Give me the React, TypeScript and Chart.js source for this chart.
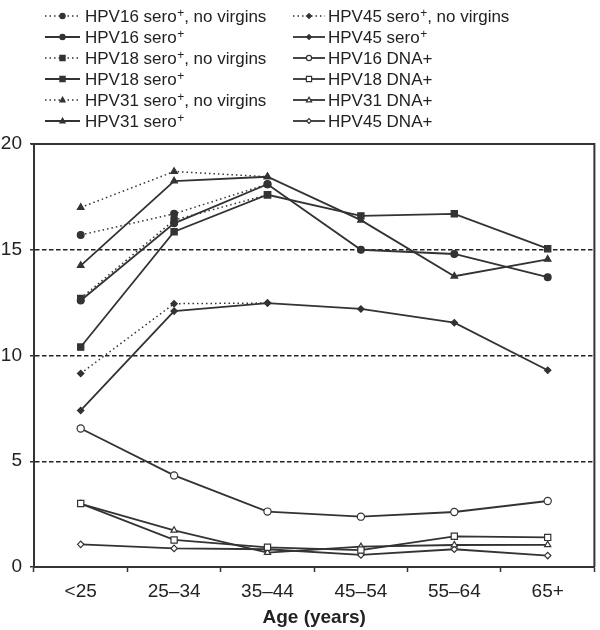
import React, { useEffect, useRef } from 'react';
import { Chart, registerables } from 'chart.js';

Chart.register(...registerables);

const categories = ['<25', '25–34', '35–44', '45–54', '55–64', '65+'];
const yTicks = [0, 5, 10, 15, 20];
const dashedLevels = [5, 10, 15];

const hpv16NoVirgins = [15.7, 16.7, 18.1, null, null, null];
const hpv16Sero = [12.6, 16.25, 18.1, 15.0, 14.8, 13.7];
const hpv18NoVirgins = [12.7, 16.4, 17.6, null, null, null];
const hpv18Sero = [10.4, 15.85, 17.6, 16.6, 16.7, 15.05];
const hpv31NoVirgins = [17.0, 18.7, 18.45, null, null, null];
const hpv31Sero = [14.25, 18.25, 18.45, 16.4, 13.75, 14.55];
const hpv45NoVirgins = [9.15, 12.45, 12.48, null, null, null];
const hpv45Sero = [7.4, 12.1, 12.48, 12.2, 11.55, 9.3];
const hpv16Dna = [6.55, 4.33, 2.62, 2.38, 2.6, 3.12];
const hpv18Dna = [3.0, 1.28, 0.93, 0.8, 1.45, 1.4];
const hpv31Dna = [2.98, 1.73, 0.68, 0.96, 1.04, 1.05];
const hpv45Dna = [1.07, 0.88, 0.84, 0.57, 0.84, 0.54];

const DARK = '#333333';
const TEXT = '#222222';
const FONT = "'Liberation Sans', Arial, Helvetica, sans-serif";

type Spec = {
  label: string;
  data: (number | null)[];
  style: 'circle' | 'rect' | 'triangle' | 'rectRot';
  dotted: boolean;
  open: boolean;
  radius: number;
};

const specs: Spec[] = [
  { label: 'HPV16 sero⁺, no virgins', data: hpv16NoVirgins, style: 'circle', dotted: true, open: false, radius: 3.4 },
  { label: 'HPV16 sero⁺', data: hpv16Sero, style: 'circle', dotted: false, open: false, radius: 3.4 },
  { label: 'HPV18 sero⁺, no virgins', data: hpv18NoVirgins, style: 'rect', dotted: true, open: false, radius: 4.4 },
  { label: 'HPV18 sero⁺', data: hpv18Sero, style: 'rect', dotted: false, open: false, radius: 4.4 },
  { label: 'HPV31 sero⁺, no virgins', data: hpv31NoVirgins, style: 'triangle', dotted: true, open: false, radius: 3.8 },
  { label: 'HPV31 sero⁺', data: hpv31Sero, style: 'triangle', dotted: false, open: false, radius: 3.8 },
  { label: 'HPV45 sero⁺, no virgins', data: hpv45NoVirgins, style: 'rectRot', dotted: true, open: false, radius: 3.2 },
  { label: 'HPV45 sero⁺', data: hpv45Sero, style: 'rectRot', dotted: false, open: false, radius: 3.2 },
  { label: 'HPV16 DNA+', data: hpv16Dna, style: 'circle', dotted: false, open: true, radius: 3.6 },
  { label: 'HPV18 DNA+', data: hpv18Dna, style: 'rect', dotted: false, open: true, radius: 4.4 },
  { label: 'HPV31 DNA+', data: hpv31Dna, style: 'triangle', dotted: false, open: true, radius: 3.6 },
  { label: 'HPV45 DNA+', data: hpv45Dna, style: 'rectRot', dotted: false, open: true, radius: 3.2 },
];

function drawMarker(ctx: CanvasRenderingContext2D, style: string, x: number, y: number, r: number, open: boolean) {
  ctx.save();
  ctx.beginPath();
  if (style === 'circle') {
    ctx.arc(x, y, r, 0, Math.PI * 2);
  } else if (style === 'rect') {
    ctx.rect(x - r, y - r, 2 * r, 2 * r);
  } else if (style === 'triangle') {
    ctx.moveTo(x, y - r * 1.1);
    ctx.lineTo(x + r, y + r * 0.75);
    ctx.lineTo(x - r, y + r * 0.75);
    ctx.closePath();
  } else {
    ctx.moveTo(x, y - r);
    ctx.lineTo(x + r, y);
    ctx.lineTo(x, y + r);
    ctx.lineTo(x - r, y);
    ctx.closePath();
  }
  ctx.fillStyle = open ? '#ffffff' : DARK;
  ctx.strokeStyle = DARK;
  ctx.lineWidth = 1.2;
  ctx.fill();
  ctx.stroke();
  ctx.restore();
}

function drawLabel(ctx: CanvasRenderingContext2D, text: string, x: number, y: number) {
  const parts = text.split('⁺');
  ctx.save();
  ctx.fillStyle = TEXT;
  ctx.textBaseline = 'alphabetic';
  ctx.textAlign = 'left';
  let cx = x;
  const base = y + 6;
  parts.forEach((p, i) => {
    ctx.font = `17px ${FONT}`;
    ctx.fillText(p, cx, base);
    cx += ctx.measureText(p).width;
    if (i < parts.length - 1) {
      ctx.font = `12px ${FONT}`;
      ctx.fillText('+', cx + 0.5, base - 5);
      cx += ctx.measureText('+').width + 0.5;
    }
  });
  ctx.restore();
}

const legendPlugin = {
  id: 'customLegend',
  afterDraw(chart: any) {
    const ctx: CanvasRenderingContext2D = chart.ctx;
    const cols = [
      { lineX: 45, lineW: 35, textX: 85 },
      { lineX: 293, lineW: 32, textX: 328 },
    ];
    const rowY0 = 16;
    const rowH = 21;
    specs.forEach((s, i) => {
      const col = cols[Math.floor(i / 6)];
      const y = rowY0 + (i % 6) * rowH;
      ctx.save();
      ctx.strokeStyle = DARK;
      ctx.lineWidth = s.dotted ? 1.4 : 1.8;
      ctx.setLineDash(s.dotted ? [1.5, 3] : []);
      ctx.beginPath();
      ctx.moveTo(col.lineX, y);
      ctx.lineTo(col.lineX + col.lineW, y);
      ctx.stroke();
      ctx.restore();
      const mr = s.style === 'rect' ? 2.6 : s.style === 'rectRot' ? 2.4 : 2.6;
      drawMarker(ctx, s.style, col.lineX + col.lineW / 2, y, mr, s.open);
      drawLabel(ctx, s.label, col.textX, y);
    });
  },
};

const framePlugin = {
  id: 'frame',
  afterDatasetsDraw(chart: any) {
    const { ctx, chartArea } = chart;
    ctx.save();
    ctx.strokeStyle = DARK;
    ctx.lineWidth = 2;
    ctx.beginPath();
    ctx.moveTo(chartArea.left - 3, chartArea.top);
    ctx.lineTo(chartArea.right, chartArea.top);
    ctx.lineTo(chartArea.right, chartArea.bottom);
    ctx.stroke();
    ctx.restore();
  },
};

export default function App() {
  const ref = useRef<HTMLCanvasElement | null>(null);

  useEffect(() => {
    if (!ref.current) return;
    const datasets = specs.map((s) => ({
      label: s.label,
      data: s.data,
      borderColor: DARK,
      backgroundColor: s.open ? '#ffffff' : DARK,
      borderWidth: s.dotted ? 1.5 : 1.8,
      borderDash: s.dotted ? [1.5, 3] : [],
      pointStyle: s.style,
      pointRadius: s.radius,
      pointBorderWidth: 1.2,
      pointBorderColor: DARK,
      pointBackgroundColor: s.open ? '#ffffff' : DARK,
      tension: 0,
      spanGaps: false,
      fill: false,
    }));

    const chart = new Chart(ref.current, {
      type: 'line',
      data: { labels: categories, datasets },
      plugins: [legendPlugin, framePlugin],
      options: {
        responsive: false,
        animation: false,
        layout: { padding: { top: 144, right: 1, left: 0, bottom: 0 } },
        plugins: {
          legend: { display: false },
          tooltip: { enabled: false },
        },
        scales: {
          x: {
            type: 'category',
            offset: true,
            grid: {
              display: true,
              offset: true,
              drawOnChartArea: false,
              tickLength: 5,
              tickColor: DARK,
              tickWidth: 1.5,
              color: DARK,
            },
            border: { display: true, color: DARK, width: 2 },
            ticks: {
              color: TEXT,
              font: { family: FONT, size: 19 },
              padding: 8,
              maxRotation: 0,
              autoSkip: false,
            },
            title: {
              display: true,
              text: 'Age (years)',
              color: TEXT,
              font: { family: FONT, size: 19, weight: 'bold' },
              padding: { top: 0, bottom: 1 },
            },
            afterFit: (scale: any) => {
              scale.height = 63;
            },
          },
          y: {
            min: 0,
            max: 20,
            afterBuildTicks: (scale: any) => {
              scale.ticks = yTicks.map((v) => ({ value: v }));
            },
            grid: {
              display: true,
              drawOnChartArea: true,
              tickLength: 4,
              tickColor: DARK,
              tickWidth: 1.5,
              lineWidth: 1.5,
              color: (c: any) => (dashedLevels.includes(c.tick?.value) ? '#222222' : 'rgba(0,0,0,0)'),
            },
            border: { display: true, color: DARK, width: 2, dash: [4.5, 2.5] },
            ticks: {
              color: TEXT,
              font: { family: FONT, size: 19 },
              padding: 8,
            },
            afterFit: (scale: any) => {
              scale.width = 34;
            },
          },
        },
      },
    });
    return () => chart.destroy();
  }, []);

  return (
    <div style={{ position: 'absolute', left: 0, top: 0, width: 600, height: 630, background: '#fff' }}>
      <canvas ref={ref} width={600} height={630} style={{ width: 600, height: 630, display: 'block' }} />
    </div>
  );
}
